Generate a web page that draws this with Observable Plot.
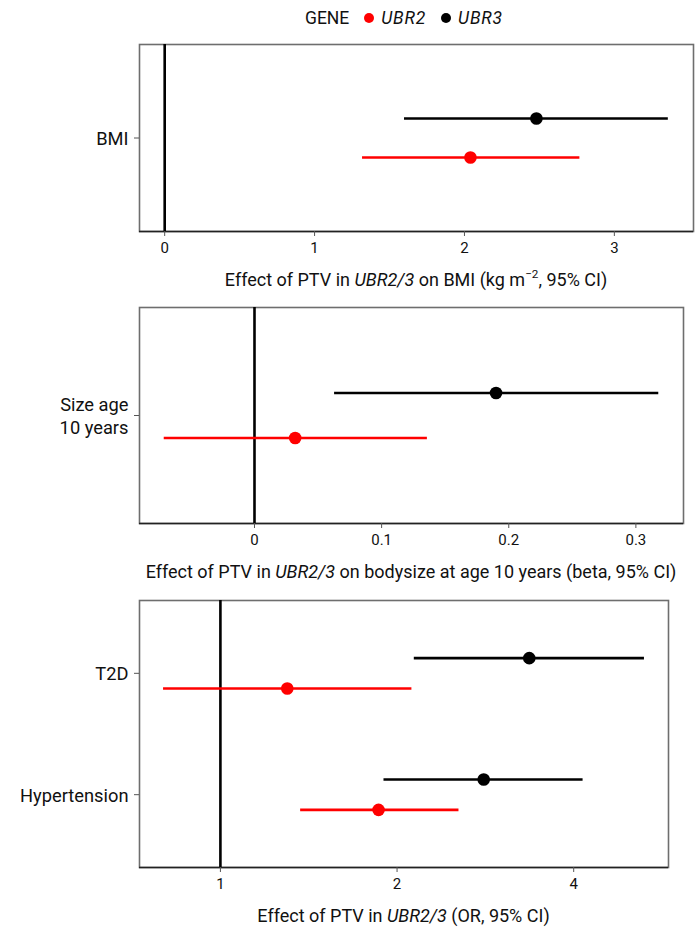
<!DOCTYPE html>
<html><head><meta charset="utf-8">
<script src="https://cdn.jsdelivr.net/npm/d3@7"></script>
<script src="https://cdn.jsdelivr.net/npm/@observablehq/plot@0.6"></script>
<style>
body{margin:0;background:#fff;font-family:Roboto,"Noto Sans",sans-serif;color:#111;}
#root{position:relative;width:698px;height:927px;overflow:hidden;}
.svgwrap{position:absolute;left:0;}
.title{position:absolute;font-size:18px;white-space:nowrap;transform:translate(-50%,-50%);line-height:22px;}
.title sup{font-size:0.65em;line-height:0;position:relative;top:-0.1em;}
#legend{position:absolute;left:305px;top:7px;height:22px;display:flex;align-items:center;font-size:17.5px;white-space:nowrap;}
#legend .dot{display:inline-block;width:10px;height:10px;border-radius:50%;}
#legend i{letter-spacing:0.8px;}
</style></head><body><div id="root"></div>
<script>
// ---------- data ----------
const genes = ["UBR2", "UBR3"];
const geneColors = ["#ff0000", "#000000"];

// Panel 1: BMI
const bmiCategories = ["BMI"];
const bmiRowCat = ["BMI", "BMI"];
const bmiRowGene = ["UBR3", "UBR2"];
const bmiEst = [2.48, 2.04];
const bmiLow = [1.60, 1.32];
const bmiHigh = [3.36, 2.77];
const bmiTicks = [0, 1, 2, 3];
const bmiTickLabels = ["0", "1", "2", "3"];

// Panel 2: body size at age 10
const sizeCategories = ["Size age\n10 years"];
const sizeRowCat = ["Size age\n10 years", "Size age\n10 years"];
const sizeRowGene = ["UBR3", "UBR2"];
const sizeEst = [0.190, 0.032];
const sizeLow = [0.063, -0.071];
const sizeHigh = [0.318, 0.136];
const sizeTicks = [0, 0.1, 0.2, 0.3];
const sizeTickLabels = ["0", "0.1", "0.2", "0.3"];

// Panel 3: odds ratios
const orCategories = ["T2D", "Hypertension"];
const orRowCat = ["T2D", "T2D", "Hypertension", "Hypertension"];
const orRowGene = ["UBR3", "UBR2", "UBR3", "UBR2"];
const orEst = [3.36, 1.30, 2.81, 1.86];
const orLow = [2.14, 0.80, 1.90, 1.37];
const orHigh = [5.28, 2.12, 4.15, 2.55];
const orTicks = [1, 2, 4];
const orTickLabels = ["1", "2", "4"];

// ---------- legend ----------
const root = document.getElementById("root");
const legend = document.createElement("div");
legend.id = "legend";
let lh = `<span style="margin-right:15px">GENE</span>`;
genes.forEach((g, i) => {
  lh += `<span class="dot" style="background:${geneColors[i]}"></span><i style="margin-left:7px;margin-right:${i < genes.length - 1 ? 15 : 0}px">${g}</i>`;
});
legend.innerHTML = lh;
root.appendChild(legend);

// ---------- panel builder ----------
function panel(o) {
  const n = o.cats.length;
  const rows = o.rowCat.map((c, i) => ({
    cat: c, gene: o.rowGene[i], est: o.est[i], low: o.low[i], high: o.high[i],
    pos: o.cats.indexOf(c) + (o.rowGene[i] === "UBR3" ? -0.125 : 0.125)
  }));
  const f = o.type === "log" ? Math.log : (v => v);
  const finv = o.type === "log" ? Math.exp : (v => v);
  const lo = Math.min(f(o.ref), ...o.low.map(f));
  const hi = Math.max(f(o.ref), ...o.high.map(f));
  const pad = (hi - lo) * 0.05;
  const domain = [finv(lo - pad), finv(hi + pad)];
  const height = o.mt + (o.boxBottom - o.boxTop) + o.mb;
  const plot = Plot.plot({
    width: 698, height,
    marginLeft: 139, marginRight: 698 - o.right, marginTop: o.mt, marginBottom: o.mb,
    style: {fontFamily: "Roboto, 'Noto Sans', sans-serif", fontSize: "15px", color: "#111", background: "white"},
    x: {type: o.type, domain},
    y: {domain: [-0.6, n - 0.4], reverse: true},
    color: {domain: genes, range: geneColors},
    marks: [
      Plot.frame({stroke: "#6e6e6e", strokeWidth: 1.6}),
      Plot.ruleY([n - 0.4], {stroke: "#222", strokeWidth: 1.6}),
      Plot.ruleX([o.ref], {stroke: "#000", strokeWidth: 2.6}),
      Plot.ruleY(rows, {x1: "low", x2: "high", y: "pos", stroke: "gene", strokeWidth: 2.6}),
      Plot.dot(rows, {x: "est", y: "pos", r: 6.3, fill: "gene", stroke: null}),
      Plot.axisX({ticks: o.ticks, tickFormat: (d) => o.tickLabels[o.ticks.indexOf(d)], tickSize: 5, tickPadding: 6, label: null, fontSize: 15, stroke: "#555"}),
      Plot.axisY({ticks: d3.range(n), tickFormat: (i) => o.cats[i], tickSize: 5, tickPadding: 6, label: null, fontSize: 18.3, lineHeight: 1.22, stroke: "#555"})
    ]
  });
  const wrap = document.createElement("div");
  wrap.className = "svgwrap";
  wrap.style.top = (o.boxTop - o.mt) + "px";
  wrap.appendChild(plot);
  root.appendChild(wrap);
  const t = document.createElement("div");
  t.className = "title";
  t.style.left = ((139 + o.right) / 2) + "px";
  t.style.top = o.titleY + "px";
  t.innerHTML = o.title;
  root.appendChild(t);
}

panel({cats: bmiCategories, rowCat: bmiRowCat, rowGene: bmiRowGene, est: bmiEst, low: bmiLow, high: bmiHigh,
  ticks: bmiTicks, tickLabels: bmiTickLabels, ref: 0, type: "linear",
  boxTop: 44, boxBottom: 231, right: 693, mt: 14, mb: 32, titleY: 280,
  title: "Effect of PTV in <i>UBR2/3</i> on BMI (kg m<sup>\u22122</sup>, 95% CI)"});

panel({cats: sizeCategories, rowCat: sizeRowCat, rowGene: sizeRowGene, est: sizeEst, low: sizeLow, high: sizeHigh,
  ticks: sizeTicks, tickLabels: sizeTickLabels, ref: 0, type: "linear",
  boxTop: 307, boxBottom: 523, right: 683, mt: 14, mb: 32, titleY: 572,
  title: "Effect of PTV in <i>UBR2/3</i> on bodysize at age 10 years (beta, 95% CI)"});

panel({cats: orCategories, rowCat: orRowCat, rowGene: orRowGene, est: orEst, low: orLow, high: orHigh,
  ticks: orTicks, tickLabels: orTickLabels, ref: 1, type: "log",
  boxTop: 600, boxBottom: 867, right: 668, mt: 14, mb: 30, titleY: 916,
  title: "Effect of PTV in <i>UBR2/3</i> (OR, 95% CI)"});
</script>
</body></html>
